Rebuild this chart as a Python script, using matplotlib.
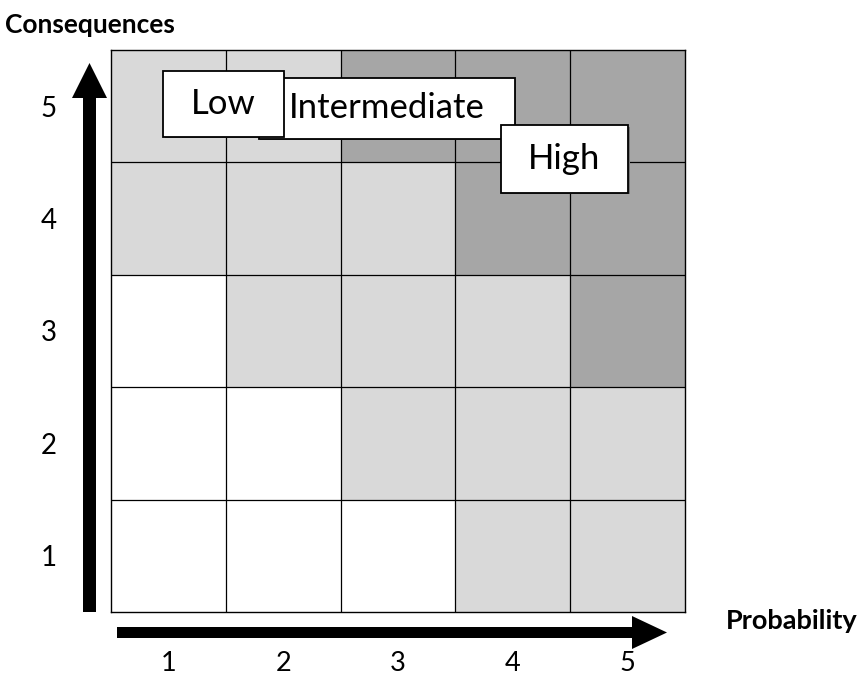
import numpy as np
import matplotlib
matplotlib.use('Agg')
import matplotlib.pyplot as plt
import matplotlib.colors as mcolors
from matplotlib.patches import Rectangle, FancyArrow

# Risk matrix: rows = consequences 1..5, cols = probability 1..5
# 0 = low (white), 1 = intermediate (light grey), 2 = high (dark grey)
probability = [1, 2, 3, 4, 5]
consequences = [1, 2, 3, 4, 5]
risk_levels = [
    [0, 0, 0, 1, 1],   # consequence 1
    [0, 0, 1, 1, 1],   # consequence 2
    [0, 1, 1, 1, 2],   # consequence 3
    [1, 1, 1, 2, 2],   # consequence 4
    [1, 1, 2, 2, 2],   # consequence 5
]
level_colors = ['#ffffff', '#d9d9d9', '#a6a6a6']

# Legend boxes (label, centre x, centre y, width, height) in cell units
labels = ['Intermediate', 'Low', 'High']
label_x = [2.90, 1.48, 4.45]
label_y = [4.98, 5.02, 4.53]
label_w = [2.23, 1.05, 1.11]
label_h = [0.54, 0.58, 0.60]

plt.rcParams['font.family'] = ['Lato', 'DejaVu Sans']

W, H = 859, 677
fig = plt.figure(figsize=(W / 100, H / 100), dpi=100)

# overlay in pixel coords for arrows and titles
over = fig.add_axes([0, 0, 1, 1])
over.set_xlim(0, W)
over.set_ylim(H, 0)
over.axis('off')

# vertical arrow (consequences)
over.add_patch(FancyArrow(89.5, 612, 0, -549, width=13, head_width=35,
                          head_length=35, length_includes_head=True,
                          color='black', lw=0))
# horizontal arrow (probability)
over.add_patch(FancyArrow(117, 632.5, 550, 0, width=11, head_width=33,
                          head_length=35, length_includes_head=True,
                          color='black', lw=0))

over.text(5, 25, 'Consequences', fontsize=19, fontweight='bold',
          ha='left', va='center')
over.text(726, 621, 'Probability', fontsize=19.5, fontweight='bold',
          ha='left', va='center')

# main grid axes
left, right, top, bottom = 111, 685, 50, 612
ax = fig.add_axes([left / W, 1 - bottom / H, (right - left) / W, (bottom - top) / H])
cmap = mcolors.ListedColormap(level_colors)
ax.imshow(np.array(risk_levels), cmap=cmap, vmin=-0.5, vmax=2.5,
          origin='lower', extent=[0.5, 5.5, 0.5, 5.5], aspect='auto')
ax.set_xlim(0.5, 5.5)
ax.set_ylim(0.5, 5.5)

for v in np.arange(1.5, 5.5, 1):
    ax.axvline(v, color='black', lw=0.9)
    ax.axhline(v, color='black', lw=0.9)
for s in ax.spines.values():
    s.set_linewidth(1.0)

ax.set_xticks(probability)
ax.set_yticks(consequences)
ax.set_xticklabels([str(p) for p in probability], fontsize=19.5)
ax.set_yticklabels([str(c) for c in consequences], fontsize=20)
ax.tick_params(axis='x', length=0, pad=28)
ax.tick_params(axis='y', length=0, pad=39)

for lab, cx, cy, w, h in zip(labels, label_x, label_y, label_w, label_h):
    ax.add_patch(Rectangle((cx - w / 2 + 0.012, cy - h / 2 - 0.012), w, h,
                           facecolor='#777777', edgecolor='none', zorder=4))
    ax.add_patch(Rectangle((cx - w / 2, cy - h / 2), w, h,
                           facecolor='white', edgecolor='black', lw=1.3, zorder=5))
    ax.text(cx, cy, lab, fontsize=25, ha='center', va='center', zorder=6)

fig.savefig('out.png', dpi=100)
